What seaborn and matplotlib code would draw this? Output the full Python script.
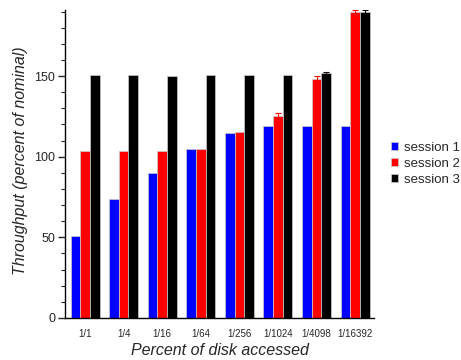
import numpy as np
import pandas as pd
import matplotlib
matplotlib.use("Agg")
import matplotlib.pyplot as plt
from matplotlib.ticker import MultipleLocator
import seaborn as sns

# Data
fractions = ["1/1", "1/4", "1/16", "1/64", "1/256", "1/1024", "1/4098", "1/16392"]
session1 = [51, 74, 90, 105, 115, 119, 119, 119]
session2 = [103.5, 103.5, 103.5, 105, 115.5, 125, 148.5, 190]
session3 = [150.5, 150.5, 150.3, 150.8, 151, 151, 152, 190]
err1 = [0, 0, 0, 0, 0, 0, 0, 0]
err2 = [0, 0, 0, 0, 0, 2.0, 1.5, 1.0]
err3 = [0, 0, 0, 0, 0, 0, 0.5, 1.0]
sessions = ["session 1", "session 2", "session 3"]
colors = ["#0000ff", "#ff0000", "#000000"]

rows = []
for s, vals, errs in zip(sessions, [session1, session2, session3], [err1, err2, err3]):
    for f, v, e in zip(fractions, vals, errs):
        rows.append({"fraction": f, "session": s, "throughput": v, "err": e})
df = pd.DataFrame(rows)

sns.set_style("white")
plt.rcParams["font.family"] = ["Liberation Sans", "DejaVu Sans"]

fig = plt.figure(figsize=(4.61, 3.6), dpi=100)
ax = fig.add_axes([65 / 461, 1 - 318 / 360, (374 - 65) / 461, (318 - 10) / 360])

sns.barplot(data=df, x="fraction", y="throughput", hue="session", order=fractions,
            hue_order=sessions, palette=colors, saturation=1, errorbar=None, width=0.75,
            edgecolor="#cccccc", linewidth=0.5, ax=ax)

# error bars only where the reference shows them
for i, s in enumerate(sessions):
    sub = df[df["session"] == s].set_index("fraction").loc[fractions]
    cont = ax.containers[i]
    xs = np.array([p.get_x() + p.get_width() / 2 for p in cont.patches])
    mask = sub["err"].values > 0
    if mask.any():
        ax.errorbar(xs[mask], sub["throughput"].values[mask], yerr=sub["err"].values[mask],
                    fmt="none", ecolor=colors[i], elinewidth=0.8, capsize=2.5, capthick=0.8)

ax.set_ylim(0, 191)
ax.set_xlim(-0.52, 7.49)
ax.yaxis.set_major_locator(MultipleLocator(50))
ax.yaxis.set_minor_locator(MultipleLocator(10))
ax.tick_params(axis="y", which="major", direction="out", length=5, width=1, left=True, labelsize=9, pad=2)
ax.tick_params(axis="y", which="minor", direction="out", length=3, width=0.8, left=True)
ax.tick_params(axis="x", length=0, labelsize=7, pad=8)

for side in ["top", "right"]:
    ax.spines[side].set_visible(False)
for side in ["left", "bottom"]:
    ax.spines[side].set_color("black")
    ax.spines[side].set_linewidth(1)

ax.set_xlabel("Percent of disk accessed", fontsize=11.5, style="italic", labelpad=3)
ax.set_ylabel("Throughput (percent of nominal)", fontsize=11.5, style="italic")
ax.yaxis.set_label_coords(-0.12, 0.51)

ax.legend(loc="center left", bbox_to_anchor=(1.055, 0.5), frameon=False, fontsize=9.5,
          borderaxespad=0, borderpad=0,
          handlelength=0.55, handleheight=0.55, handletextpad=0.4, labelspacing=0.3)

fig.savefig("out.png", dpi=100)
